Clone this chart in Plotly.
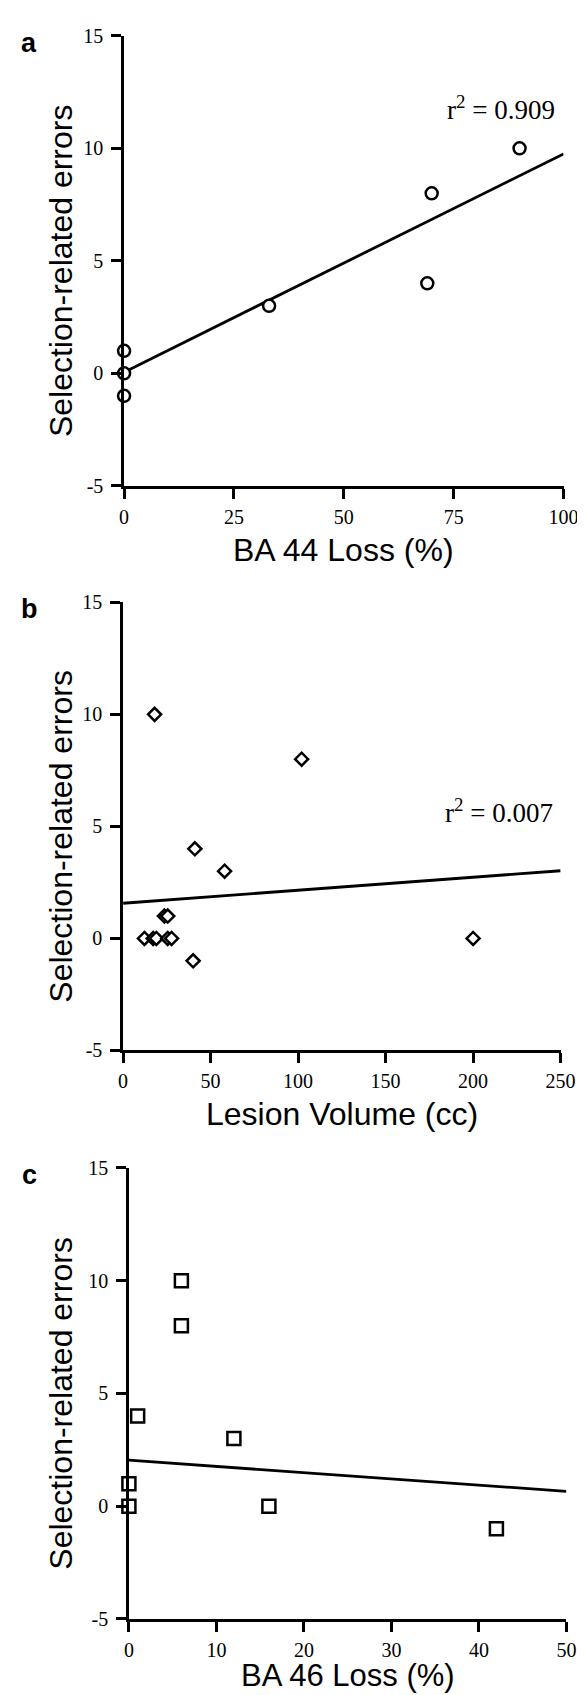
import plotly.graph_objects as go

# panel a: BA 44 loss vs errors
a_x = [0, 0, 0, 33, 69, 70, 90]
a_y = [1, 0, -1, 3, 4, 8, 10]
a_fit_x = [0, 100]
a_fit_y = [0.05, 9.75]

# panel b: lesion volume vs errors
b_x = [18, 102, 41, 58, 23.6, 25.5, 12.2, 17.2, 19, 25.5, 27.7, 40, 200]
b_y = [10, 8, 4, 3, 1, 1, 0, 0, 0, 0, 0, -1, 0]
b_fit_x = [0, 250]
b_fit_y = [1.57, 3.02]

# panel c: BA 46 loss vs errors
c_x = [6, 6, 1, 12, 0, 0, 16, 42]
c_y = [10, 8, 4, 3, 1, 0, 0, -1]
c_fit_x = [0, 50]
c_fit_y = [2.04, 0.66]

y_ticks = [-5, 0, 5, 10, 15]
y_ticktext = ['-5', '0', '5', '10', '15']
a_xticks = [0, 25, 50, 75, 100]
b_xticks = [0, 50, 100, 150, 200, 250]
c_xticks = [0, 10, 20, 30, 40, 50]

r2_text = ['r<sup>2</sup> = 0.909', 'r<sup>2</sup> = 0.007', 'r<sup>2</sup> = 0.009']
x_titles = ['BA 44 Loss (%)', 'Lesion Volume (cc)', 'BA 46 Loss (%)']
letters = ['a', 'b', 'c']
y_title = 'Selection-related errors'

W, H = 585, 1695
SERIF = 'Liberation Serif, Times New Roman, serif'
SANS = 'Liberation Sans, Arial, sans-serif'

# pixel boxes of each plot area: left, right, top, bottom
boxes = [(115, 570, 17, 473), (114, 567, 591, 1045), (120, 573, 1164, 1621)]
title_gap = [64, 64, 57]
title_size = [32, 32, 31]
panels = [
    (a_x, a_y, a_fit_x, a_fit_y, a_xticks, 'circle', 12, (98.5, 11.8)),
    (b_x, b_y, b_fit_x, b_fit_y, b_xticks, 'diamond', 10, (247, 5.7)),
    (c_x, c_y, c_fit_x, c_fit_y, c_xticks, 'square', 13, (50.4, 3.5)),
]

fig = go.Figure()
annots = []
for i, (px_, py_, fx, fy, xt, sym, msize, r2pos) in enumerate(panels):
    n = '' if i == 0 else str(i + 1)
    xa, ya = 'x' + n, 'y' + n
    l, r, t, b = boxes[i]
    fig.add_scatter(x=fx, y=fy, mode='lines', xaxis=xa, yaxis=ya,
                    line=dict(color='black', width=2.8), showlegend=False)
    fig.add_scatter(x=px_, y=py_, mode='markers', xaxis=xa, yaxis=ya, cliponaxis=False,
                    marker=dict(symbol=sym, size=msize, color='white',
                                line=dict(color='black', width=2.5)),
                    showlegend=False)
    common = dict(showgrid=False, zeroline=False, showline=True, linecolor='black',
                  linewidth=2.5, ticks='outside', ticklen=10, tickwidth=2.5,
                  tickcolor='black', tickfont=dict(family=SERIF, size=20, color='black'))
    fig.update_layout({
        'xaxis' + n: dict(domain=[l / W, r / W], anchor=ya, range=[0, xt[-1]],
                          tickvals=xt, ticklabelstandoff=1, **common),
        'yaxis' + n: dict(domain=[1 - b / H, 1 - t / H], anchor=xa, range=[-5, 15],
                          tickvals=y_ticks, ticktext=y_ticktext, ticklabelstandoff=4, **common),
    })
    annots.append(dict(x=r2pos[0], y=r2pos[1], xref=xa, yref=ya, text=r2_text[i],
                       showarrow=False, xanchor='right', yanchor='middle',
                       font=dict(family=SERIF, size=27, color='black')))
    annots.append(dict(x=0.5, y=0, xref=xa + ' domain', yref=ya + ' domain', text=x_titles[i],
                       showarrow=False, xanchor='center', yanchor='middle',
                       yshift=-title_gap[i],
                       font=dict(family=SANS, size=title_size[i], color='black')))
    annots.append(dict(x=50 / W, y=0.5, xref='paper', yref=ya + ' domain', text=y_title,
                       textangle=-90, showarrow=False, xanchor='center', yanchor='middle',
                       yshift=-10, font=dict(family=SANS, size=32, color='black')))
    annots.append(dict(x=17 / W, y=1 - (t + 7) / H, xref='paper', yref='paper',
                       text='<b>' + letters[i] + '</b>', showarrow=False,
                       xanchor='center', yanchor='middle',
                       font=dict(family=SANS, size=27, color='black')))

fig.update_layout(width=W, height=H, margin=dict(l=0, r=0, t=0, b=0),
                  paper_bgcolor='white', plot_bgcolor='white', annotations=annots)
fig.write_html('out.html')
